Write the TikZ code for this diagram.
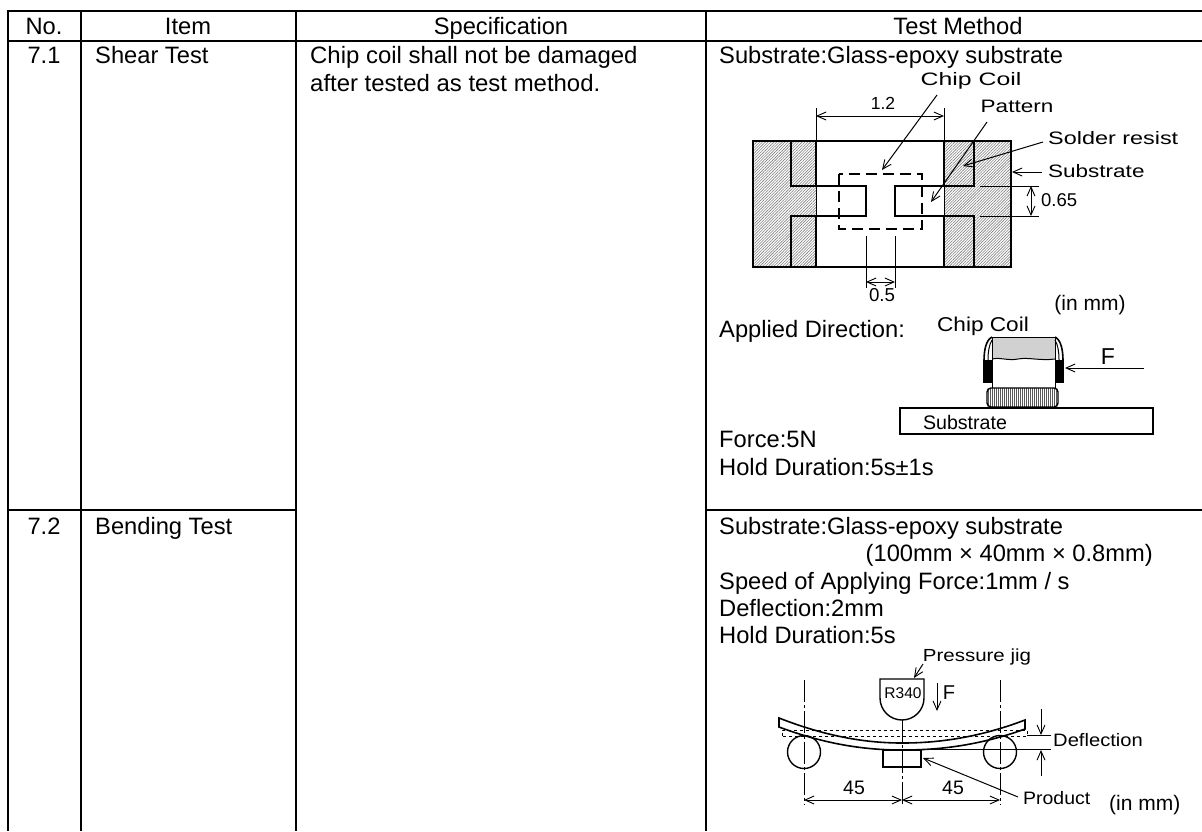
\documentclass[tikz,border=0pt]{standalone}
\usepackage{fontspec}
\setmainfont{Liberation Sans}
\usetikzlibrary{arrows.meta,patterns.meta}
\newcommand{\xs}[2]{\scalebox{#1}[1]{#2}}
\newcommand{\fs}[1]{\fontsize{#1pt}{#1pt}\selectfont}
\tikzset{
  x=1pt,y=-1pt,
  barb/.tip={Straight Barb[length=9pt,width=8pt,line width=0.9pt]},
  grid/.style={line width=2pt,black},
  heavy/.style={line width=2pt,black},
  thin1/.style={line width=1pt,black},
  dim/.style={line width=1pt,black,{barb}-{barb}},
  lead/.style={line width=1pt,black,-{barb}},
  txt/.style={inner sep=0pt,anchor=base west,font=\fs{23.7},text=black},
  ctxt/.style={inner sep=0pt,anchor=base,font=\fs{23.7},text=black},
  small/.style={inner sep=0pt,anchor=base west,font=\fs{18},text=black},
  csmall/.style={inner sep=0pt,anchor=base,font=\fs{18},text=black},
  hatch/.style={pattern={Lines[angle=45,distance=2pt,line width=0.6pt]},pattern color=black!50},
  vhatch/.style={pattern={Lines[angle=90,distance=2pt,line width=1pt]},pattern color=black!65},
  stipple/.style={fill=black!18},
  axis/.style={line width=1pt,black,dash pattern=on 22pt off 3pt on 3pt off 3pt},
}
\begin{document}
\begin{tikzpicture}
\useasboundingbox (0,0) rectangle (1202,831);
% table
\draw[grid] (8,11) -- (1202,11);
\draw[grid] (8,41) -- (1202,41);
\draw[grid] (8,510) -- (296,510);
\draw[grid] (706,510) -- (1202,510);
\foreach \cx in {8,81,296,706} \draw[grid] (\cx,10) -- (\cx,831);
\node[ctxt] (hno) at (44,34) {No.};
\node[ctxt] (hitem) at (188,34) {Item};
\node[ctxt] (hspec) at (501,34) {Specification};
\node[ctxt] (hmeth) at (958,34) {Test Method};
\node[ctxt] (n71) at (44,63) {7.1};
\node[txt] (i71) at (95,63) {Shear Test};
\node[txt] (s1) at (310,63) {\xs{1.01}{Chip coil shall not be damaged}};
\node[txt] (s2) at (310,91) {\xs{1.01}{after tested as test method.}};
\node[ctxt] (n72) at (44,534) {7.2};
\node[txt] (i72) at (95,534) {Bending Test};
% test method text
\node[txt] (m1) at (719,63) {Substrate:Glass-epoxy substrate};
\node[txt] (m2) at (719,337) {Applied Direction:};
\node[txt] (m3) at (719,447) {Force:5N};
\node[txt] (m4) at (719,475) {Hold Duration:5s±1s};
\node[txt] (m5) at (719,534) {Substrate:Glass-epoxy substrate};
\node[inner sep=0pt,anchor=base east,font=\fs{23.7}] (m6) at (1153,561) {(100mm × 40mm × 0.8mm)};
\node[txt] (m7) at (719,589) {Speed of Applying Force:1mm / s};
\node[txt] (m8) at (719,616) {Deflection:2mm};
\node[txt] (m9) at (719,643) {Hold Duration:5s};
% --- pad layout
\fill[hatch] (753,141) rectangle (816,267);
\fill[hatch] (944,141) rectangle (1011,267);
\draw[heavy] (753,141) rectangle (1011,267);
\draw[heavy] (791,141) -- (791,186) -- (866,186) -- (866,216) -- (791,216) -- (791,267);
\draw[heavy] (974,141) -- (974,186) -- (895,186) -- (895,216) -- (974,216) -- (974,267);
\draw[heavy] (816,141) -- (816,186) (816,216) -- (816,267);
\draw[heavy] (944,141) -- (944,186) (944,216) -- (944,267);
\draw[thin1] (816,186) -- (816,216) (944,186) -- (944,216);
\draw[heavy,dash pattern=on 11pt off 6pt] (839,174) rectangle (922,229);
% dimensions
\draw[thin1] (816,108) -- (816,141) (944,108) -- (944,141);
\draw[dim] (816,116) -- (944,116);
\node[csmall,font=\fs{17.5}] (d12) at (883,109) {1.2};
\draw[thin1] (866,236) -- (866,288) (895,236) -- (895,288);
\draw[dim] (866,282) -- (895,282);
\node[csmall,font=\fs{18.7}] (d05) at (882,301) {0.5};
\draw[thin1] (980,186) -- (1039,186) (980,216) -- (1039,216);
\draw[dim] (1031,186) -- (1031,216);
\node[small,font=\fs{18.5}] (d065) at (1041,206) {0.65};
\node[csmall] (lcc) at (971,85) {\xs{1.38}{Chip Coil}};
\node[csmall] (lpat) at (1017,112) {\xs{1.25}{Pattern}};
\node[small] (lsol) at (1048,144) {\xs{1.3}{Solder resist}};
\node[small] (lsub) at (1048,177) {\xs{1.25}{Substrate}};
\draw[lead] (937,95) -- (882,170);
\draw[lead] (987,122) -- (931,202);
\draw[lead] (1043,142) -- (963,166);
\draw[lead] (1042,172) -- (1012,172);
\node[inner sep=0pt,anchor=base,font=\fs{21}] (mm1) at (1090,310) {(in mm)};
% --- applied direction
\node[csmall,font=\fs{20}] (lcc2) at (983,331) {\xs{1.13}{Chip Coil}};
\fill[stipple] (992,337) rectangle (1055,359);
\draw[line width=1pt] (992,337) -- (1055,337);
\draw[line width=1pt] (992,337) -- (992,388) (1055,337) -- (1055,388);
\draw[line width=1pt] (992,359) .. controls (1000,357) and (1008,361) .. (1018,359) .. controls (1028,357) and (1040,361) .. (1055,359);
\fill[black] (983,360) rectangle (992,383);
\fill[black] (1055,360) rectangle (1064,383);
\draw[line width=1.6pt] (992,337) .. controls (986,340) and (984,350) .. (984,361);
\draw[line width=1pt] (992,340) .. controls (989,345) and (988,352) .. (988,360);
\draw[line width=1.6pt] (1055,337) .. controls (1061,340) and (1063,350) .. (1063,361);
\draw[line width=1pt] (1055,340) .. controls (1058,345) and (1059,352) .. (1059,360);
\draw[line width=1.4pt,black,rounded corners=4pt,vhatch] (987,388) rectangle (1058,407);
\draw[line width=1.3pt] (900,408) rectangle (1153,434);
\node[csmall,font=\fs{19.6}] (lsub2) at (965,429) {Substrate};
\draw[lead] (1144,368) -- (1065,368);
\node[csmall,font=\fs{23}] (lf) at (1108,364) {F};
% --- bending
\draw[axis] (804,680) -- (804,805);
\draw[axis] (1000,680) -- (1000,805);
\draw[axis] (902,720) -- (902,805);
\draw[line width=1pt,dashed] (782,736) -- (782,730) -- (1027,730) -- (1027,736) -- cycle;
\draw[line width=1.4pt] (804,752) circle (16.5);
\draw[line width=1.4pt] (1000,752) circle (16.5);
\draw[line width=1.4pt] (883,750) rectangle (921,767);
\draw[line width=1.6pt] (779,718) .. controls (830,738) and (870,743) .. (902,743) .. controls (934,743) and (975,739) .. (1025,720) -- (1025,729) .. controls (975,747) and (934,750) .. (902,750) .. controls (870,750) and (830,746) .. (779,727) -- cycle;
\draw[line width=1.4pt,fill=white] (880,679) -- (924,679) -- (924,698) arc[start angle=0,end angle=180,x radius=22,y radius=22] -- cycle;
\node[inner sep=0pt,anchor=base,font=\fs{15.5}] (r340) at (903,698) {R340};
\node[csmall,font=\fs{17.5}] (ljig) at (977,661) {\xs{1.17}{Pressure jig}};
\draw[lead] (923,664) -- (914,678);
\draw[lead] (937,683) -- (937,711);
\node[csmall,font=\fs{20}] (lf2) at (949,699) {F};
\draw[thin1] (1027,735) -- (1051,735) (921,749) -- (1051,749);
\draw[lead] (1041,709) -- (1041,735);
\draw[lead] (1041,776) -- (1041,750);
\node[small] (ldef) at (1053,746) {\xs{1.12}{Deflection}};
\draw[dim] (804,800) -- (902,800);
\draw[dim] (902,800) -- (1000,800);
\node[csmall,font=\fs{19.5}] (d45a) at (854,794) {45};
\node[csmall,font=\fs{19.5}] (d45b) at (953,794) {45};
\draw[lead] (1018,797) -- (923,758);
\node[small] (lprod) at (1023,804) {\xs{1.08}{Product}};
\node[inner sep=0pt,anchor=base west,font=\fs{21}] (mm2) at (1109,810) {(in mm)};
\end{tikzpicture}
\end{document}
